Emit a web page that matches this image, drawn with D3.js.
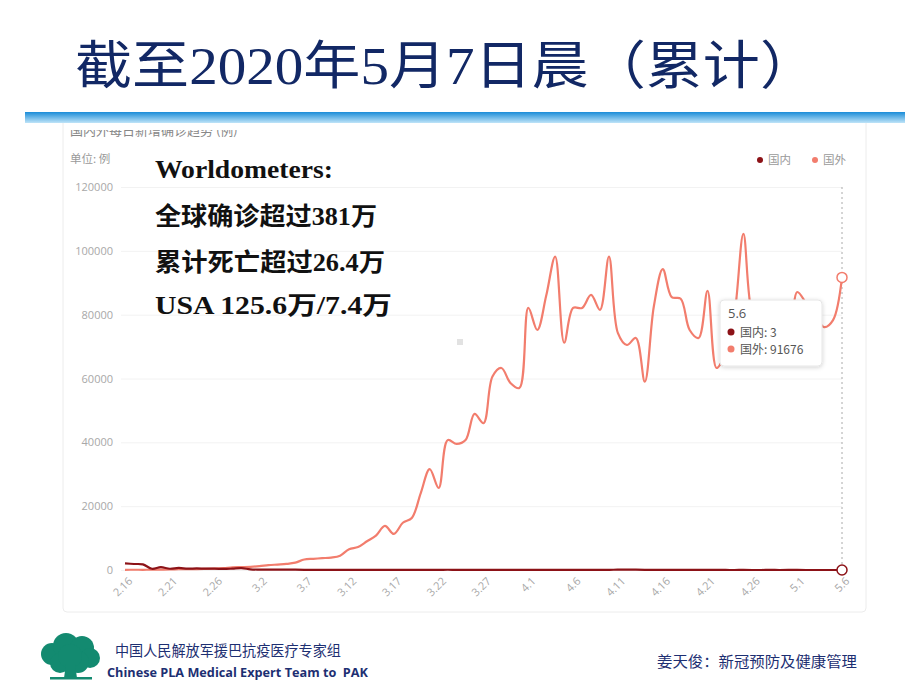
<!DOCTYPE html>
<html><head><meta charset="utf-8">
<script src="https://cdn.jsdelivr.net/npm/d3@7/dist/d3.min.js"></script>
<style>body{margin:0;background:#fff;} svg{display:block;}</style>
</head><body><svg id="c" width="920" height="690"></svg>
<script>
const dates = ["2.16","2.17","2.18","2.19","2.20","2.21","2.22","2.23","2.24","2.25","2.26","2.27","2.28","2.29",
"3.1","3.2","3.3","3.4","3.5","3.6","3.7","3.8","3.9","3.10","3.11","3.12","3.13","3.14","3.15","3.16","3.17","3.18","3.19","3.20","3.21","3.22","3.23","3.24","3.25","3.26","3.27","3.28","3.29","3.30","3.31",
"4.1","4.2","4.3","4.4","4.5","4.6","4.7","4.8","4.9","4.10","4.11","4.12","4.13","4.14","4.15","4.16","4.17","4.18","4.19","4.20","4.21","4.22","4.23","4.24","4.25","4.26","4.27","4.28","4.29","4.30",
"5.1","5.2","5.3","5.4","5.5","5.6"];
const domestic = [2048,1886,1749,394,889,397,648,409,508,406,433,327,427,573,
202,125,119,139,143,99,44,40,19,24,15,8,11,20,16,21,13,34,39,41,46,39,78,47,67,55,54,45,31,48,36,
35,31,19,30,39,32,62,63,42,46,99,108,89,46,26,27,26,16,12,11,30,10,10,6,11,3,6,22,4,12,
12,1,2,3,1,3];
const foreign = [60,80,70,100,120,150,250,300,280,350,450,600,800,900,
1000,1200,1500,1700,1900,2300,3300,3500,3700,3900,4500,6500,7200,9000,10800,13800,11300,14800,16300,24100,31600,25700,40700,39500,40700,48900,46000,60600,63300,58600,57000,
82100,75200,86000,98200,71200,82100,82100,86200,81500,98200,74200,70500,72700,59000,82500,94300,85500,85000,75200,72700,87500,63300,68000,80000,105300,80000,76000,78000,75000,64800,
87100,83600,80000,76100,78300,91676];
const yTicks = [0,20000,40000,60000,80000,100000,120000];
const xTickLabels = ["2.16","2.21","2.26","3.2","3.7","3.12","3.17","3.22","3.27","4.1","4.6","4.11","4.16","4.21","4.26","5.1","5.6"];
const seriesNames = ["国内","国外"];
const seriesColors = ["#8c1217","#f27d6d"];
const titleText = "截至2020年5月7日晨（累计）";
const noteLines = ["Worldometers:","全球确诊超过381万","累计死亡超过26.4万","USA 125.6万/7.4万"];
const footerLeft = ["中国人民解放军援巴抗疫医疗专家组","Chinese PLA Medical Expert Team to  PAK"];
const footerRight = "姜天俊：新冠预防及健康管理";

const svg = d3.select("#c");
const defs = svg.append("defs");
const g1 = defs.append("linearGradient").attr("id","bar").attr("x1",0).attr("y1",0).attr("x2",0).attr("y2",1);
g1.append("stop").attr("offset","0%").attr("stop-color","#1a8cd8");
g1.append("stop").attr("offset","100%").attr("stop-color","#bfe4f8");
const sh = defs.append("filter").attr("id","sh").attr("x","-20%").attr("y","-20%").attr("width","140%").attr("height","150%");
sh.append("feDropShadow").attr("dx",0).attr("dy",1).attr("stdDeviation",2).attr("flood-color","#000").attr("flood-opacity",0.18);
const clip = defs.append("clipPath").attr("id","topclip");
clip.append("rect").attr("x",60).attr("y",130).attr("width",300).attr("height",8);

// chart panel
svg.append("rect").attr("x",63).attr("y",118).attr("width",803).attr("height",494).attr("rx",4)
  .attr("fill","#fff").attr("stroke","#ececec");

// title
svg.append("text").attr("x",75).attr("y",84).attr("font-family","'Liberation Serif','Noto Sans CJK SC'")
  .attr("font-size",52).attr("fill","#122865").attr("textLength",742).attr("lengthAdjust","spacingAndGlyphs").text(titleText);
// blue bar
svg.append("rect").attr("x",25).attr("y",112).attr("width",880).attr("height",11).attr("fill","url(#bar)");

// clipped chart title fragment (cut off in the source screenshot)
svg.append("text").attr("x",70).attr("y",135).attr("clip-path","url(#topclip)").attr("font-family","'Noto Sans CJK SC'")
  .attr("font-size",13).attr("fill","#888").text("国内外每日新增确诊趋势 (例)");

const x = d3.scalePoint().domain(dates).range([125,842]);
const y = d3.scaleLinear().domain([0,120000]).range([570,187]);

// unit
svg.append("text").attr("x",70).attr("y",163).attr("font-family","'Noto Sans CJK SC'").attr("font-size",11.5).attr("fill","#9a9a9a").text("单位: 例");

// grid + y axis
const yAxis = d3.axisLeft(y).tickValues(yTicks).tickSize(-(842-121)).tickPadding(8).tickFormat(d3.format("d"));
const ya = svg.append("g").attr("transform","translate(121,0)").call(yAxis);
ya.select(".domain").remove();
ya.selectAll(".tick line").attr("stroke","#f2f2f2");
ya.selectAll(".tick text").attr("fill","#a8a8a8").attr("font-size",11).attr("font-family","'Open Sans',sans-serif");

// x axis labels
const xAxis = d3.axisBottom(x).tickValues(xTickLabels).tickSize(0).tickPadding(0);
const xa = svg.append("g").attr("transform","translate(0,575)").call(xAxis);
xa.select(".domain").remove();
xa.selectAll(".tick text").attr("fill","#a8a8a8").attr("font-size",11).attr("font-family","'Open Sans',sans-serif")
  .attr("text-anchor","end").attr("dy","0.35em").attr("transform","translate(5,4) rotate(-45)");

// axis pointer dotted line
const last = dates[dates.length-1];
svg.append("line").attr("x1",x(last)).attr("x2",x(last)).attr("y1",y(120000)).attr("y2",y(0))
  .attr("stroke","#aaa").attr("stroke-dasharray","2,3").attr("stroke-width",1);

// lines
const series = [domestic, foreign];
const line = d3.line().x((d,i)=>x(dates[i])).y(d=>y(d)).curve(d3.curveCatmullRom.alpha(0.5));
[1,0].forEach(k=>{
  svg.append("path").datum(series[k]).attr("d",line).attr("fill","none")
    .attr("stroke",seriesColors[k]).attr("stroke-width",2.2).attr("stroke-linejoin","round");
});
// end markers
[0,1].forEach(k=>{
  svg.append("circle").attr("cx",x(last)).attr("cy",y(series[k][series[k].length-1])).attr("r",5)
    .attr("fill","#fff").attr("stroke",seriesColors[k]).attr("stroke-width",1.5);
});

// loading artifact square
svg.append("rect").attr("x",457).attr("y",339).attr("width",6).attr("height",6).attr("fill","#e2e2e2");

// legend
const lg = svg.append("g").attr("font-family","'Noto Sans CJK SC'").attr("font-size",11.5).attr("fill","#9a9a9a");
seriesNames.forEach((n,i)=>{
  const lx = 760 + i*55;
  lg.append("circle").attr("cx",lx).attr("cy",160).attr("r",3).attr("fill",seriesColors[i]);
  lg.append("text").attr("x",lx+8).attr("y",164).text(n);
});

// tooltip
const tt = svg.append("g").attr("transform","translate(720,300)");
tt.append("rect").attr("width",102).attr("height",66).attr("rx",4).attr("fill","#fff").attr("stroke","#e6e6e6").attr("filter","url(#sh)");
tt.append("text").attr("x",8).attr("y",18).attr("font-family","'Open Sans',sans-serif").attr("font-size",13).attr("fill","#555").text(last);
seriesNames.forEach((n,i)=>{
  tt.append("circle").attr("cx",11).attr("cy",32+i*17).attr("r",3.5).attr("fill",seriesColors[i]);
  tt.append("text").attr("x",20).attr("y",36.5+i*17).attr("font-family","'Noto Sans CJK SC'").attr("font-size",12).attr("fill","#555")
    .text(n+": "+series[i][series[i].length-1]);
});

// annotation text
const noteY = [178,225,271,314];
const noteW = [178,222,230,237];
noteLines.forEach((t,i)=>{
  svg.append("text").attr("x",155).attr("y",noteY[i])
    .attr("font-family","'Liberation Serif','Noto Sans CJK SC'")
    .attr("font-weight", i===0 ? "bold" : 600)
    .attr("font-size", i===0 ? 26 : 24.5).attr("fill","#111")
    .attr("textLength",noteW[i]).attr("lengthAdjust","spacingAndGlyphs").text(t);
});

// footer logo (tree)
const lgo = svg.append("g").attr("fill","#138a70");
[[52,654,11],[66,646,13],[82,648,12],[90,658,10],[60,663,10],[78,662,11],[70,656,12]].forEach(c=>lgo.append("circle").attr("cx",c[0]).attr("cy",c[1]).attr("r",c[2]));
lgo.append("path").attr("d","M66,664 L64,678 L77,678 L75,664 Z");
lgo.append("rect").attr("x",50).attr("y",677).attr("width",42).attr("height",2.5);

svg.append("text").attr("x",115).attr("y",656).attr("font-family","'Noto Sans CJK SC'").attr("font-size",14.5).attr("fill","#1d2f72")
  .attr("textLength",226).attr("lengthAdjust","spacingAndGlyphs").text(footerLeft[0]);
svg.append("text").attr("x",107).attr("y",677).attr("font-family","'Open Sans',sans-serif").attr("font-weight","bold").attr("font-size",13).attr("fill","#1d2f72")
  .attr("textLength",261).attr("lengthAdjust","spacingAndGlyphs").attr("xml:space","preserve").text(footerLeft[1]);
svg.append("text").attr("x",657).attr("y",667).attr("font-family","'Noto Sans CJK SC'").attr("font-size",14.5).attr("fill","#1d2f72")
  .attr("textLength",200).attr("lengthAdjust","spacingAndGlyphs").text(footerRight);
</script></body></html>
